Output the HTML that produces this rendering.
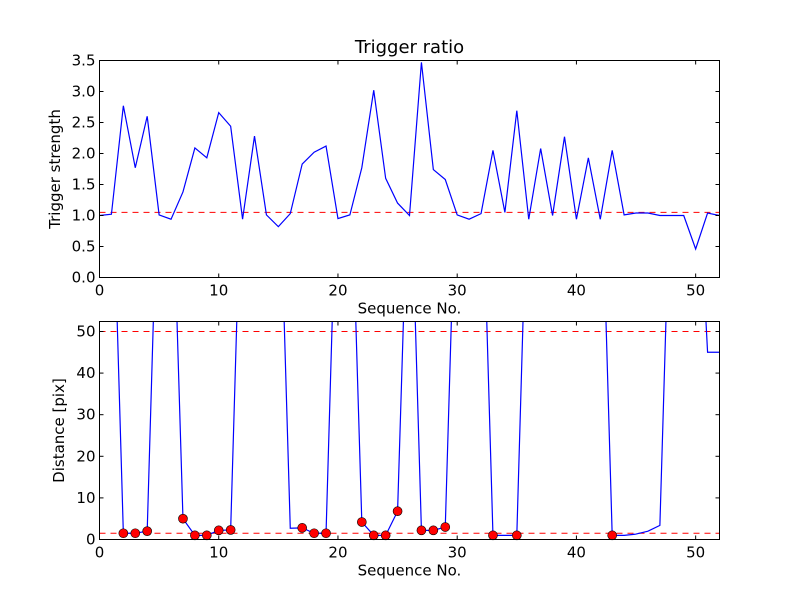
<!DOCTYPE html>
<html><head><meta charset="utf-8"><style>
body{margin:0;background:#fff}
svg{display:block;font-family:"DejaVu Sans","Liberation Sans",sans-serif}
</style></head><body>
<svg id="c" width="800" height="600"></svg>
<script>
const seqTop=[0,1,2,3,4,5,6,7,8,9,10,11,12,13,14,15,16,17,18,19,20,21,22,23,24,25,26,27,28,29,30,31,32,33,34,35,36,37,38,39,40,41,42,43,44,45,46,47,48,49,50,51,52];
const strength=[1.0,1.02,2.77,1.77,2.6,1.01,0.94,1.38,2.09,1.93,2.66,2.44,0.94,2.28,1.01,0.82,1.03,1.83,2.02,2.12,0.95,1.01,1.77,3.02,1.6,1.2,1.0,3.47,1.74,1.58,1.01,0.94,1.03,2.05,1.05,2.69,0.94,2.08,1.0,2.27,0.94,1.93,0.94,2.05,1.01,1.04,1.04,1.0,1.0,1.0,0.46,1.04,1.0];
const strengthThreshold=1.05;
const distance=[100,100,1.5,1.5,2,100,100,5,1,1,2.2,2.3,100,100,100,100,2.7,2.8,1.5,1.5,100,100,4.2,1,1,6.8,100,2.2,2.2,3,100,100,100,1,1,1,100,100,100,100,100,100,100,1,1,1.3,2,3.4,100,100,100,45,45];
const markerIdx=[2,3,4,7,8,9,10,11,17,18,19,22,23,24,25,27,28,29,33,35,43];
const distThresholds=[50,1.5];
const xTicks=[0,10,20,30,40,50];
const yTicksTop=["0.0","0.5","1.0","1.5","2.0","2.5","3.0","3.5"];
const yTicksBot=[0,10,20,30,40,50];

const svg=document.getElementById('c');
const NS='http://www.w3.org/2000/svg';
function mk(t,a,p){const e=document.createElementNS(NS,t);for(const k in a)e.setAttribute(k,a[k]);(p||svg).appendChild(e);return e;}
const L=99.5,R=719.5;
const sx=v=>L+(R-L)*v/52;

function panel(top,bot,ymax,name){
  const sy=v=>bot-(bot-top)*v/ymax;
  const g=mk('g',{});
  
  
  const cid='clip'+name;
  const cp=mk('clipPath',{id:cid},g);mk('rect',{x:L,y:top,width:R-L,height:bot-top},cp);
  return {g,sy,cid};
}
function axes(p,top,bot,yt,ylab,pname){
  const {g,sy}=p;
  const fr=mk('rect',{x:L,y:top,width:R-L,height:bot-top,fill:'none',stroke:'#000','stroke-width':1},g);
  
  xTicks.forEach(v=>{const x=sx(v);
    mk('line',{x1:x,x2:x,y1:bot,y2:bot-4,stroke:'#000'},g);mk('line',{x1:x,x2:x,y1:top,y2:top+4,stroke:'#000'},g);
    const t=mk('text',{x:x,y:bot+18,'text-anchor':'middle','font-size':15},g);t.textContent=v;
    });
  yt.forEach(s=>{const y=sy(parseFloat(s));
    mk('line',{x1:L,x2:L+4,y1:y,y2:y,stroke:'#000'},g);mk('line',{x1:R,x2:R-4,y1:y,y2:y,stroke:'#000'},g);
    const t=mk('text',{x:L-4,y:y+5,'text-anchor':'end','font-size':15},g);t.textContent=s;
    });
  const xl=mk('text',{x:(L+R)/2,y:bot+36,'text-anchor':'middle','font-size':15},g);xl.textContent='Sequence No.';
  
  const cy=(top+bot)/2;
  const yl=mk('text',{x:0,y:0,'text-anchor':'middle','font-size':15,transform:`translate(${ylab},${cy}) rotate(-90)`},g);
  
  return yl;
}
// top panel
const T1=60.5,B1=277.5;
const p1=panel(T1,B1,3.5,'trigger-panel');
const th1=mk('line',{x1:L,x2:R,y1:p1.sy(strengthThreshold),y2:p1.sy(strengthThreshold),stroke:'#f00','stroke-dasharray':'6,5','stroke-width':1},p1.g);

const l1=mk('polyline',{points:strength.map((v,i)=>sx(seqTop[i])+','+p1.sy(v)).join(' '),fill:'none',stroke:'#00f','stroke-width':1.2,'clip-path':`url(#${p1.cid})`},p1.g);

axes(p1,T1,B1,yTicksTop,60,'trigger').textContent='Trigger strength';
const ti=mk('text',{x:(L+R)/2,y:53,'text-anchor':'middle','font-size':18});ti.textContent='Trigger ratio';

// bottom panel
const T2=321.5,B2=539.5;
const p2=panel(T2,B2,52.4,'distance-panel');
distThresholds.forEach(v=>{const l=mk('line',{x1:L,x2:R,y1:p2.sy(v),y2:p2.sy(v),stroke:'#f00','stroke-dasharray':'6,5'},p2.g);
  });
const l2=mk('polyline',{points:distance.map((v,i)=>sx(i)+','+p2.sy(v)).join(' '),fill:'none',stroke:'#00f','stroke-width':1.2,'clip-path':`url(#${p2.cid})`},p2.g);

markerIdx.forEach(i=>{const c=mk('circle',{cx:sx(i),cy:p2.sy(distance[i]),r:4.5,fill:'#f00',stroke:'#000','stroke-width':0.6},p2.g);
  });
axes(p2,T2,B2,yTicksBot.map(String),64,'distance').textContent='Distance [pix]';
</script>
</body></html>
